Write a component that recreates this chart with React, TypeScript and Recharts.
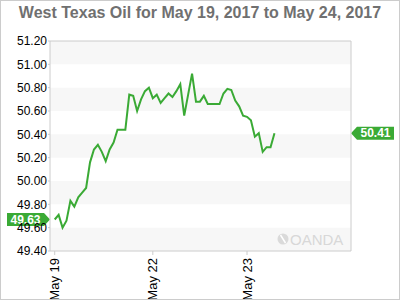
import React from 'react';
import { LineChart, Line, XAxis, YAxis, ReferenceArea, ReferenceLine } from 'recharts';

// hourly WTI quotes (slot 0 = first hour of May 19)
const prices = [
  49.67, 49.71, 49.6, 49.66, 49.83, 49.78, 49.86, 49.9, 49.94, 50.16,
  50.27, 50.31, 50.25, 50.17, 50.27, 50.33, 50.44, 50.44, 50.44, 50.74,
  50.73, 50.6, 50.7, 50.77, 50.8, 50.71, 50.74, 50.67, 50.71, 50.75,
  50.72, 50.77, 50.83, 50.56, 50.74, 50.92, 50.68, 50.68, 50.73, 50.66,
  50.66, 50.66, 50.66, 50.75, 50.79, 50.78, 50.69, 50.64, 50.56, 50.55,
  50.52, 50.38, 50.41, 50.25, 50.29, 50.29, 50.41,
];
const dayTicks = [0, 25, 49];
const dayLabels = ['May 19', 'May 22', 'May 23'];
const priceTicks = [49.4, 49.6, 49.8, 50.0, 50.2, 50.4, 50.6, 50.8, 51.0, 51.2];
const openTag = '49.63';
const closeTag = '50.41';

const data = prices.map((price, hour) => ({ hour, price }));
const FONT = '"Liberation Sans", Arial, sans-serif';
const GREEN = '#3aaa35';
const AXIS = '#cccccc';

const DayTick = (props: any) => {
  const { x, y, payload } = props;
  const label = dayLabels[dayTicks.indexOf(payload.value)];
  return (
    <text
      x={x}
      y={y + 1}
      dy="0.35em"
      transform={`rotate(-90, ${x}, ${y + 1})`}
      textAnchor="end"
      fontSize={13}
      fontFamily={FONT}
      fill="#000"
    >
      {label}
    </text>
  );
};

const PriceTag = (props: any) => {
  const { viewBox, text, side } = props;
  const y = viewBox.y;
  const tip = side === 'left' ? viewBox.x : viewBox.x + viewBox.width;
  const dir = side === 'left' ? -1 : 1;
  const near = tip + dir * 6;
  const far = tip + dir * 43;
  const d = `M${tip},${y} L${near},${y - 6.5} L${far},${y - 6.5} L${far},${y + 6.5} L${near},${y + 6.5} Z`;
  return (
    <g>
      <path d={d} fill={GREEN} />
      <text
        x={(near + far) / 2}
        y={y}
        dy="0.36em"
        textAnchor="middle"
        fontSize={12}
        fontWeight="bold"
        fontFamily={FONT}
        fill="#fff"
      >
        {text}
      </text>
    </g>
  );
};

const App: React.FC = () => {
  const bands = priceTicks.slice(0, -1).filter((_, i) => i % 2 === 0);

  return (
    <div style={{ position: 'absolute', left: 0, top: 0, width: 400, height: 300, background: '#fff' }}>
      <LineChart width={400} height={300} data={data} margin={{ top: 41, right: 0, bottom: 0, left: 0 }}>
        <XAxis
          dataKey="hour"
          type="number"
          domain={[-1.2, 75.5]}
          ticks={dayTicks}
          tick={<DayTick />}
          tickSize={4}
          height={49}
          stroke={AXIS}
          allowDataOverflow
          interval={0}
        />
        <YAxis
          yAxisId="left"
          domain={[49.4, 51.2]}
          ticks={priceTicks}
          tickFormatter={(v: number) => v.toFixed(2)}
          width={50}
          tickSize={2}
          tickMargin={1}
          stroke={AXIS}
          tick={{ fill: '#000', fontSize: 12, fontFamily: FONT }}
          interval={0}
        />
        <YAxis
          yAxisId="right"
          orientation="right"
          domain={[49.4, 51.2]}
          ticks={priceTicks}
          tickFormatter={(v: number) => v.toFixed(2)}
          width={49}
          tickSize={3}
          tickMargin={2}
          stroke={AXIS}
          tick={{ fill: '#000', fontSize: 12, fontFamily: FONT }}
          interval={0}
        />
        {bands.map((b, i) => (
          <ReferenceArea
            key={`band-${i}`}
            yAxisId="left"
            y1={b}
            y2={priceTicks[priceTicks.indexOf(b) + 1]}
            fill="#f7f7f7"
            fillOpacity={1}
            stroke="none"
          />
        ))}
        <ReferenceLine yAxisId="left" y={51.2} stroke={AXIS} />
        <Line
          yAxisId="left"
          dataKey="price"
          stroke={GREEN}
          strokeWidth={2}
          dot={false}
          isAnimationActive={false}
        />
        <ReferenceLine
          yAxisId="left"
          y={prices[0]}
          stroke="none"
          label={<PriceTag text={openTag} side="left" />}
        />
        <ReferenceLine
          yAxisId="left"
          y={prices[prices.length - 1]}
          stroke="none"
          label={<PriceTag text={closeTag} side="right" />}
        />
        <text x={200} y={17.5} textAnchor="middle" fontSize={16} fontWeight="bold" fontFamily={FONT} fill="#707070">
          West Texas Oil for May 19, 2017 to May 24, 2017
        </text>
      </LineChart>
      {/* watermark sits above the bands */}
      <svg width={400} height={300} style={{ position: 'absolute', left: 0, top: 0, pointerEvents: 'none' }}>
        <circle cx={283} cy={239} r={5.5} fill="#dadada" />
        <line x1={280.5} y1={235} x2={285.5} y2={243} stroke="#fff" strokeWidth={1.5} />
        <text x={290} y={245} fontSize={15} fontFamily={FONT} fill="#d8d8d8">
          OANDA
        </text>
      </svg>
      <div
        style={{
          position: 'absolute',
          inset: 0,
          border: '1px solid #cccccc',
          pointerEvents: 'none',
        }}
      />
    </div>
  );
};

export default App;
